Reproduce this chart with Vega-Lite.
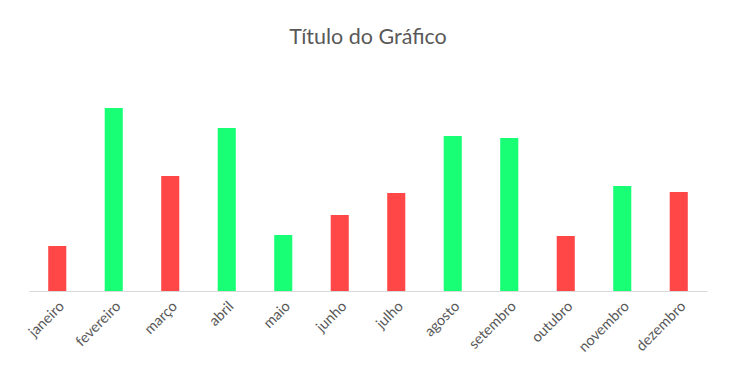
{
  "$schema": "https://vega.github.io/schema/vega-lite/v6.json",
  "autosize": {"type": "none"},
  "width": 678,
  "height": 231,
  "padding": {"left": 29, "top": 60, "right": 27, "bottom": 90},
  "background": "white",
  "title": {
    "text": "Título do Gráfico",
    "anchor": "middle",
    "frame": "group",
    "font": "Lato",
    "fontSize": 21.5,
    "fontWeight": "normal",
    "color": "#595959",
    "baseline": "alphabetic",
    "offset": -5
  },
  "data": {
    "values": [
      {"mes": "janeiro", "valor": 45, "tipo": "queda"},
      {"mes": "fevereiro", "valor": 183, "tipo": "alta"},
      {"mes": "março", "valor": 115, "tipo": "queda"},
      {"mes": "abril", "valor": 163, "tipo": "alta"},
      {"mes": "maio", "valor": 56, "tipo": "alta"},
      {"mes": "junho", "valor": 76, "tipo": "queda"},
      {"mes": "julho", "valor": 98, "tipo": "queda"},
      {"mes": "agosto", "valor": 155, "tipo": "alta"},
      {"mes": "setembro", "valor": 153, "tipo": "alta"},
      {"mes": "outubro", "valor": 55, "tipo": "queda"},
      {"mes": "novembro", "valor": 105, "tipo": "alta"},
      {"mes": "dezembro", "valor": 99, "tipo": "queda"}
    ]
  },
  "mark": {"type": "bar"},
  "encoding": {
    "x": {
      "field": "mes",
      "type": "nominal",
      "sort": null,
      "scale": {"paddingInner": 0.68, "paddingOuter": 0.34},
      "axis": {
        "title": null,
        "labelAngle": -45,
        "labelFont": "Lato",
        "labelFontSize": 14.5,
        "labelColor": "#595959",
        "labelPadding": 8,
        "ticks": false,
        "domainColor": "#d9d9d9",
        "domainWidth": 1,
        "grid": false
      }
    },
    "y": {
      "field": "valor",
      "type": "quantitative",
      "scale": {"domain": [0, 231], "nice": false},
      "axis": null
    },
    "color": {
      "field": "tipo",
      "type": "nominal",
      "scale": {"domain": ["queda", "alta"], "range": ["#FF4747", "#19FF75"]},
      "legend": null
    }
  },
  "config": {"view": {"stroke": null}}
}
